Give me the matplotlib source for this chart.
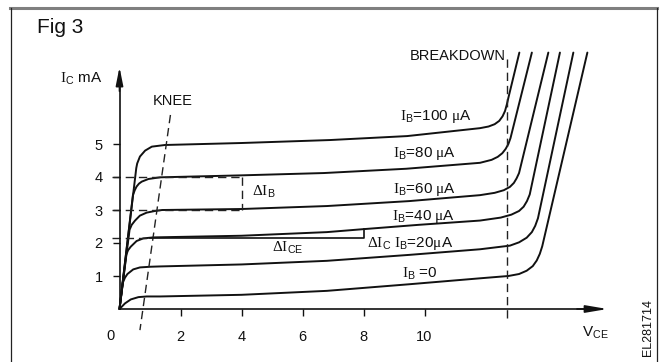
import matplotlib
matplotlib.use("Agg")
import matplotlib.pyplot as plt
from matplotlib.lines import Line2D

plt.rcParams['font.family'] = ['Liberation Sans', 'DejaVu Sans']
plt.rcParams['mathtext.fontset'] = 'custom'
plt.rcParams['mathtext.rm'] = 'Liberation Serif'
plt.rcParams['mathtext.sf'] = 'Liberation Sans'
plt.rcParams['mathtext.it'] = 'Liberation Serif:italic'

# ---- data ----
vce_100 = [0, 0.55, 0.58, 0.67, 0.84, 1.06, 1.49, 4.0, 6.9, 9.43, 11.82, 12.1, 12.3, 12.45, 12.56, 12.64, 12.7, 12.75, 13.11]
ic_100 = [0, 4.27, 4.41, 4.62, 4.80, 4.92, 4.97, 5.03, 5.12, 5.24, 5.48, 5.53, 5.60, 5.70, 5.84, 6.0, 6.2, 6.4, 7.77]

vce_80 = [0, 0.44, 0.5, 0.56, 0.64, 0.73, 0.95, 1.33, 4.0, 6.7, 9.4, 11.82, 12.2, 12.4, 12.55, 12.66, 12.75, 12.82, 13.52]
ic_80 = [0, 3.45, 3.6, 3.71, 3.8, 3.86, 3.94, 3.99, 4.05, 4.12, 4.25, 4.43, 4.52, 4.61, 4.72, 4.85, 5.0, 5.18, 7.77]

vce_60 = [0, 0.33, 0.4, 0.51, 0.67, 0.89, 1.16, 1.4, 4.0, 6.8, 9.5, 11.82, 12.3, 12.6, 12.8, 12.93, 13.02, 13.1, 14.06]
ic_60 = [0, 2.4, 2.55, 2.68, 2.83, 2.92, 2.97, 3.0, 3.03, 3.12, 3.27, 3.45, 3.52, 3.6, 3.7, 3.82, 3.96, 4.12, 7.77]

vce_40 = [0, 0.22, 0.28, 0.37, 0.56, 0.78, 1.11, 4.0, 6.8, 8.0, 9.8, 11.82, 12.5, 12.85, 13.1, 13.25, 13.36, 13.45, 14.44]
ic_40 = [0, 1.64, 1.78, 1.89, 2.06, 2.14, 2.17, 2.22, 2.33, 2.42, 2.55, 2.68, 2.77, 2.86, 2.97, 3.1, 3.27, 3.47, 7.77]

vce_20 = [0, 0.11, 0.18, 0.26, 0.45, 0.67, 1.0, 1.33, 4.0, 6.8, 9.5, 11.82, 12.8, 13.1, 13.35, 13.52, 13.63, 13.72, 14.88]
ic_20 = [0, 0.8, 0.95, 1.06, 1.2, 1.26, 1.28, 1.29, 1.35, 1.46, 1.64, 1.81, 1.92, 2.02, 2.16, 2.33, 2.52, 2.75, 7.77]

vce_0 = [0, 0.18, 0.37, 0.62, 0.89, 1.33, 4.0, 6.8, 9.5, 11.82, 12.75, 13.1, 13.35, 13.55, 13.68, 13.78, 13.86, 15.34]
ic_0 = [0, 0.17, 0.29, 0.36, 0.38, 0.38, 0.43, 0.55, 0.75, 0.93, 1.0, 1.06, 1.16, 1.3, 1.47, 1.67, 1.9, 7.77]

x_ticks = [2, 4, 6, 8, 10]
y_ticks = [1, 2, 3, 4, 5]

knee_v = [1.67, 0.67]
knee_i = [5.88, -0.64]
breakdown_v = 12.7
breakdown_i = [-0.27, 7.6]

ib_levels = [4.0, 3.0]       # dashed reference levels for delta IB
dib_v = 4.0                  # delta IB marker voltage
dice_level = 2.15            # delta ICE level
dice_v = [1.0, 8.0]
dice_top = 2.42

labels = [
    (9.2, 5.73, r'$\mathrm{I}_{\mathsf{B}}$=100 $\mathrm{μ}$A'),
    (8.98, 4.60, r'$\mathrm{I}_{\mathsf{B}}$=80 $\mathrm{μ}$A'),
    (8.98, 3.52, r'$\mathrm{I}_{\mathsf{B}}$=60 $\mathrm{μ}$A'),
    (8.92, 2.70, r'$\mathrm{I}_{\mathsf{B}}$=40 $\mathrm{μ}$A'),
    (8.10, 1.89, r'$\mathrm{\Delta I}_{\mathsf{C}}$ $\mathrm{I}_{\mathsf{B}}$=20$\mathrm{μ}$A'),
    (9.25, 0.93, r'$\mathrm{I}_{\mathsf{B}}$ =0'),
    (4.33, 3.42, r'$\mathrm{\Delta I}_{\mathsf{B}}$'),
    (4.99, 1.74, r'$\mathrm{\Delta I}_{\mathsf{CE}}$'),
]

# ---- figure ----
W, H = 661, 362
fig = plt.figure(figsize=(W / 100, H / 100), dpi=100)
ax = fig.add_axes([0, 0, 1, 1])
# pixel mapping: V = (px - 119.5)/30.5 ; I = (309 - py)/33
ax.set_xlim((0 - 119.5) / 30.5, (W - 119.5) / 30.5)
ax.set_ylim((309 - H) / 33, 309 / 33)
ax.patch.set_alpha(0)

for s in ['top', 'right']:
    ax.spines[s].set_visible(False)
for s in ['left', 'bottom']:
    ax.spines[s].set_position(('data', 0))
    ax.spines[s].set_linewidth(1.2)
    ax.spines[s].set_color('#111111')
ax.spines['bottom'].set_bounds(0, 15.5)
ax.spines['left'].set_bounds(0, 7.0)

ax.set_xticks(x_ticks)
ax.set_xticklabels([str(t) for t in x_ticks])
ax.set_yticks(y_ticks)
ax.set_yticklabels([str(t) for t in y_ticks])
ax.tick_params(axis='x', direction='out', length=5, width=1, pad=10, labelsize=10.5, colors='#111111')
ax.tick_params(axis='y', direction='out', length=5, width=1, pad=7, labelsize=10.5, colors='#111111')
ax.text(-0.31, -0.82, '0', fontsize=10.5, ha='center', va='center', color='#111111')

# axis arrows
ax.annotate('', xy=(16.0, 0), xytext=(15.0, 0),
            arrowprops=dict(arrowstyle='-|>,head_length=1.3,head_width=0.22', mutation_scale=10,
                            lw=1.2, color='#111111', shrinkA=0, shrinkB=0))
ax.annotate('', xy=(0, 7.33), xytext=(0, 6.6),
            arrowprops=dict(arrowstyle='-|>,head_length=1.1,head_width=0.22', mutation_scale=10,
                            lw=1.2, color='#111111', shrinkA=0, shrinkB=0))

# curves
curve_kw = dict(color='#111111', lw=1.4, solid_joinstyle='round', solid_capstyle='round')
for v, i in [(vce_100, ic_100), (vce_80, ic_80), (vce_60, ic_60),
             (vce_40, ic_40), (vce_20, ic_20), (vce_0, ic_0)]:
    ax.plot(v, i, **curve_kw)

dash_kw = dict(color='#222222', lw=1.0, dashes=(6, 3.5))
ax.plot(knee_v, knee_i, **dash_kw)
ax.plot([breakdown_v, breakdown_v], breakdown_i, **dash_kw)
for lvl in ib_levels:
    ax.plot([-0.25, dib_v], [lvl, lvl], **dash_kw)
ax.plot([dib_v, dib_v], ib_levels, **dash_kw)
ax.plot([-0.25, dice_v[0]], [dice_level, dice_level], **dash_kw)
ax.plot([dice_v[0], dice_v[1], dice_v[1]], [dice_level, dice_level, dice_top],
        color='#111111', lw=1.2)

for x, y, t in labels:
    ax.text(x, y, t, fontsize=11, ha='left', va='baseline', color='#111111')

ax.text(-1.95, 6.85, r'$\mathrm{I}_{\mathsf{C}}$ mA', fontsize=11, ha='left', va='baseline', color='#111111')
ax.text(1.1, 6.18, 'KNEE', fontsize=10.5, ha='left', va='baseline', color='#111111')
ax.text(9.52, 7.55, 'BREAKDOWN', fontsize=10.5, ha='left', va='baseline', color='#111111')
ax.text(15.15, -0.84, r'V$_{\mathsf{CE}}$', fontsize=11, ha='left', va='baseline', color='#111111')

# figure decorations
fig.text(37 / W, 1 - 33 / H, 'Fig 3', fontsize=15, ha='left', va='baseline', color='#111111')
fig.text(648 / W, 1 - 328 / H, 'EL281714', fontsize=9, rotation=90, ha='center', va='center', color='#111111')
fig.add_artist(Line2D([10 / W, 657 / W], [1 - 8 / H, 1 - 8 / H], color='#7f7f7f', lw=2.2, transform=fig.transFigure))
fig.add_artist(Line2D([10.5 / W, 10.5 / W], [0, 1 - 8 / H], color='#222222', lw=0.9, transform=fig.transFigure))
fig.add_artist(Line2D([656.5 / W, 656.5 / W], [0, 1 - 8 / H], color='#222222', lw=0.9, transform=fig.transFigure))

fig.savefig('out.png', dpi=100)
